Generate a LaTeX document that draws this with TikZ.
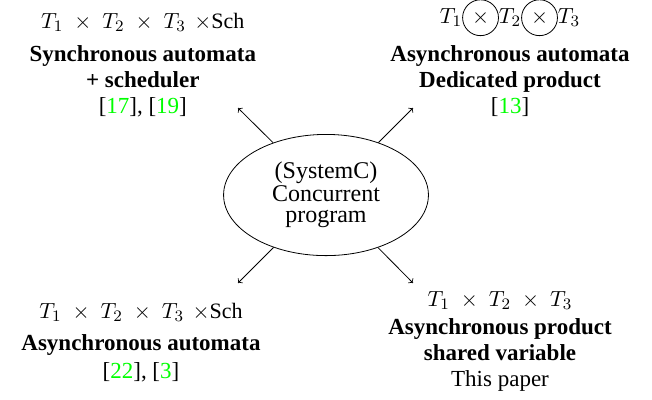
\documentclass[tikz,border=0pt]{standalone}
\usepackage[no-math]{fontspec}
\setmainfont{Liberation Serif}
\usepackage{amsmath}
\usepackage{tikz}
\usetikzlibrary{arrows,shapes,positioning}
\newcommand{\bref}[1]{[\textcolor{green}{#1}]}
\newcommand{\prodsize}{\fontsize{11}{13}\selectfont}
\newcommand{\prodsep}{\mkern5mu}
\newcommand{\ctimes}{\tikz[baseline=(ct.base)]\node[circle,draw,inner sep=2.4pt] (ct) {$\times$};}
\tikzset{
diagram/.style={>=to,thin},
program/.style={ellipse,draw,minimum width=3.6cm,minimum height=2.13cm,
inner sep=0pt,align=center,font=\fontsize{12}{10.5}\selectfont},
approach/.style={align=center,anchor=base,font=\fontsize{11.5}{13}\selectfont},
}

\begin{document}
\begin{tikzpicture}[diagram]
                    \useasboundingbox (0,0) rectangle (11.458,7.012);
                    \node[program] (prog) at (5.729,3.585) {(SystemC)\\Concurrent\\program};

                    % nodes sit on the baseline of their last line
                    \node[approach] (sync) at (2.51,5.026)
                        {{\prodsize $T_1 \prodsep\times\prodsep T_2 \prodsep\times\prodsep T_3 \;\mkern2mu\times$Sch}\\[3.5pt]
                         \textbf{Synchronous automata}\\ \textbf{+ scheduler}\\ \bref{17}, \bref{19}};
                    \node[approach] (dedic) at (8.963,5.026)
                        {{\prodsize $T_1$\ctimes$T_2$\ctimes$T_3$}\\[3.5pt]
                         \textbf{Asynchronous automata}\\ \textbf{Dedicated product}\\ \bref{13}};
                    \node[approach] (async) at (2.478,0.369)
                        {{\prodsize $T_1 \prodsep\times\prodsep T_2 \prodsep\times\prodsep T_3 \;\mkern2mu\times$Sch}\\[2.8pt]
                         \textbf{Asynchronous automata}\\[1pt] \bref{22}, \bref{3}};
                    \node[approach] (shared) at (8.787,0.228)
                        {{\prodsize $T_1 \prodsep\times\prodsep T_2 \prodsep\times\prodsep T_3$}\\[1pt]
                         \textbf{Asynchronous product}\\ \textbf{shared variable}\\ This paper};

                    \coordinate (sync tip) at (4.183,5.114);
                    \coordinate (dedic tip) at (7.258,5.114);
                    \coordinate (async tip) at (4.183,2.039);
                    \coordinate (shared tip) at (7.258,2.039);

                    \path[->] (prog) edge (sync tip);
                    \path[->] (prog) edge (dedic tip);
                    \path[->] (prog) edge (async tip);
                    \path[->] (prog) edge (shared tip);
                \end{tikzpicture}
\end{document}
